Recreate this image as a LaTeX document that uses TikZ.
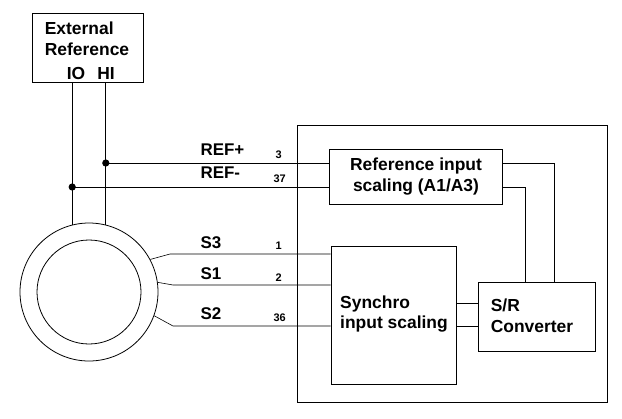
\documentclass[tikz,border=0pt]{standalone}
\usepackage{fontspec}
\setmainfont{Liberation Sans}
\usetikzlibrary{positioning}
\begin{document}
\begin{tikzpicture}[x=1bp,y=-1bp]

	\tikzstyle{blk}=[draw, line width=0.8pt, inner sep=0pt]
	\tikzstyle{wire}=[line width=0.6pt]
	\tikzstyle{lbl}=[font=\fontsize{17}{18}\selectfont\bfseries]
	\tikzstyle{pin}=[font=\fontsize{11}{12}\selectfont\bfseries]
	\tikzstyle{txt}=[font=\fontsize{17.5}{21}\selectfont\bfseries, align=center]

	\useasboundingbox (0,0) rectangle (622,418);

	% bloques
	\node[blk, minimum width=111bp, minimum height=69bp] (ext) at (87.5,47.5) {};
	\node[txt, align=left] (ext_t) at (87,39) {External\\Reference};
	\node[txt] (ext_io) at (76,73) {IO};
	\node[txt] (ext_hi) at (106,73) {HI};
	\node[blk, minimum width=310bp, minimum height=277bp] (board) at (452,264) {};
	\node[blk, minimum width=173bp, minimum height=55bp, txt] (refsc) at (416,176.5) {Reference input\\scaling (A1/A3)};
	\node[blk, minimum width=125bp, minimum height=138bp] (syn) at (393.5,315) {};
	\node[txt, align=left] (syn_t) at (394,314) {Synchro\\input scaling};
	\node[blk, minimum width=117bp, minimum height=69bp] (sr) at (536.5,316.5) {};
	\node[txt, align=left] (sr_t) at (532,316) {S/R\\Converter};

	% sincro
	\node[circle, draw, line width=0.8pt, minimum size=138bp] (rotor) at (89,292) {};
	\node[circle, draw, line width=0.8pt, minimum size=104bp] (rotor_in) at (89,292) {};

	% referencia
	\draw[wire] (ext.south -| rotor.104) -- (rotor.104);
	\draw[wire] (ext.south -| rotor.76) -- (rotor.76);
	\coordinate (d_hi) at (rotor.76 |- 0,163);
	\coordinate (d_io) at (rotor.104 |- 0,187);
	\fill (d_hi) circle (3.6bp);
	\fill (d_io) circle (3.6bp);
	\draw[wire] (d_hi) -- (d_hi -| refsc.west);
	\draw[wire] (d_io) -- (d_io -| refsc.west);
	\node[lbl, anchor=west] (ref_p) at (197,150) {REF+};
	\node[lbl, anchor=west] (ref_m) at (197,173) {REF-};
	\node[pin, anchor=west] (p_3) at (272,155) {3};
	\node[pin, anchor=west] (p_37) at (270,179) {37};

	% estator
	\coordinate (s3_a) at (170,254);
	\coordinate (s1_a) at (173,285);
	\coordinate (s2_a) at (173,326);
	\draw[wire] (rotor.28) -- (s3_a) -- (s3_a -| syn.west);
	\draw[wire] (rotor.8) -- (s1_a) -- (s1_a -| syn.west);
	\draw[wire] (rotor.-20) -- (s2_a) -- (s2_a -| syn.west);
	\node[lbl, anchor=west] (s_3) at (197,243) {S3};
	\node[lbl, anchor=west] (s_1) at (197,274) {S1};
	\node[lbl, anchor=west] (s_2) at (197,314) {S2};
	\node[pin, anchor=west] (p_1) at (272,246) {1};
	\node[pin, anchor=west] (p_2) at (272,278) {2};
	\node[pin, anchor=west] (p_36) at (270,318) {36};

	% conversor
	\draw[wire] (refsc.east |- d_hi) -- (554,163) -- (554,0 |- sr.north);
	\draw[wire] (refsc.east |- d_io) -- (525,187) -- (525,0 |- sr.north);
	\draw[wire] (syn.east |- 0,303) -- (sr.west |- 0,303);
	\draw[wire] (syn.east |- 0,326) -- (sr.west |- 0,326);
\end{tikzpicture}
\end{document}
